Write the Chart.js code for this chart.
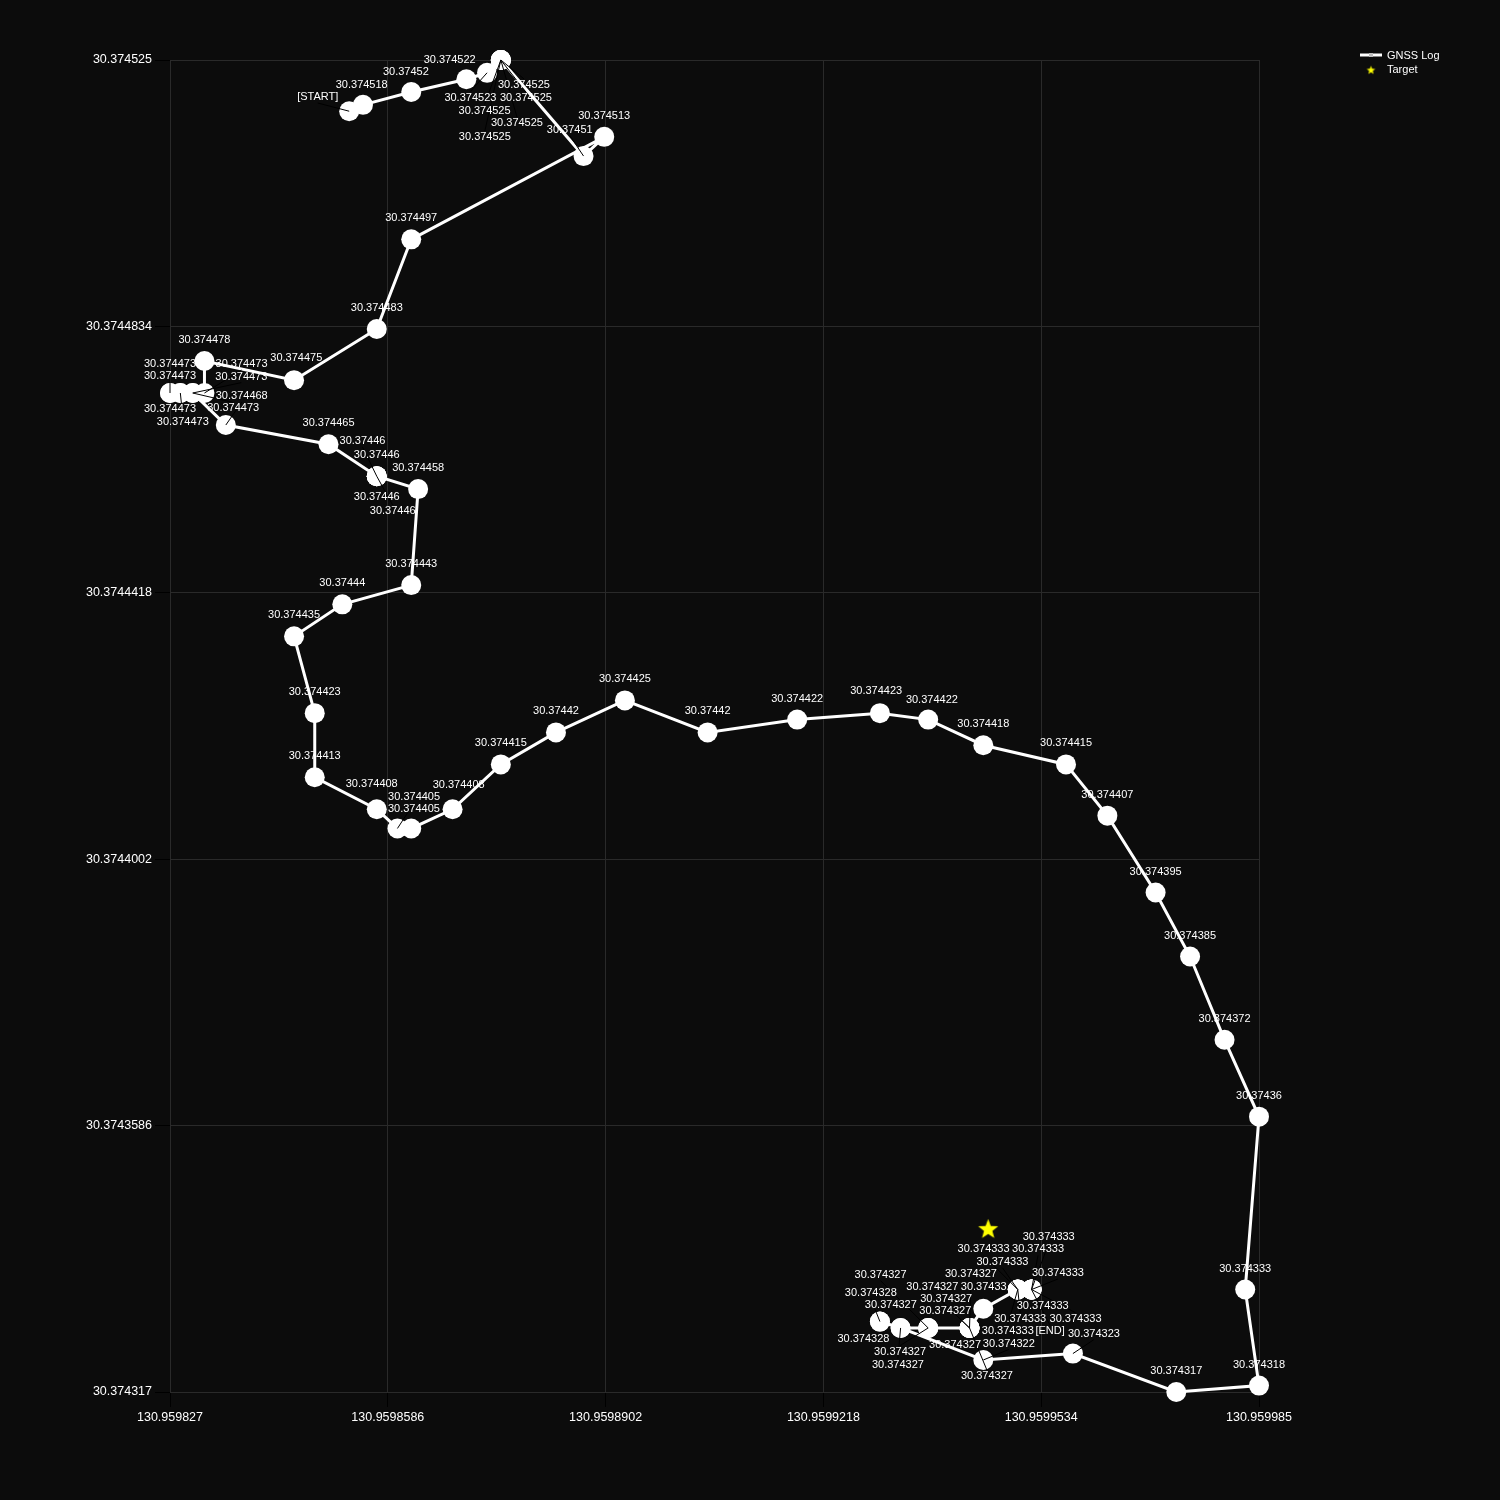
<!DOCTYPE html>
<html><head><meta charset="utf-8">
<script src="https://cdn.jsdelivr.net/npm/chart.js@4.4.1/dist/chart.umd.min.js"></script>
<style>html,body{margin:0;padding:0;background:#0c0c0c;}#wrap{width:1500px;height:1500px;}</style>
</head><body><div id="wrap"><canvas id="c" width="1500" height="1500"></canvas></div>
<script>
// GNSS log (longitude / latitude), in travel order
const lons = [
  130.959853, 130.959855, 130.959862, 130.95987, 130.959873,
  130.959875, 130.959875, 130.959875, 130.959875, 130.959875,
  130.959887, 130.95989, 130.959862, 130.959857, 130.959845,
  130.959832, 130.959832, 130.9598303, 130.9598285, 130.959827, 130.959827, 130.9598285, 130.9598303,
  130.9598351, 130.95985, 130.959857, 130.959857, 130.959857, 130.959857, 130.959863,
  130.959862, 130.959852, 130.959845, 130.959848, 130.959848, 130.959857, 130.95986, 130.959862,
  130.959868, 130.959875, 130.959883, 130.959893, 130.959905, 130.959918, 130.95993, 130.959937,
  130.959945, 130.959957, 130.959963, 130.95997, 130.959975, 130.95998, 130.959985, 130.959983,
  130.959985, 130.959973, 130.959958, 130.959945,
  130.959933, 130.95993, 130.95993, 130.959933,
  130.959937, 130.959937, 130.959937,
  130.959943, 130.959943, 130.959943, 130.959943, 130.959943,
  130.959945,
  130.95995, 130.95995, 130.95995, 130.95995,
  130.959952, 130.959952, 130.959952, 130.959952, 130.959952, 130.959952
];
const lats = [
  30.374517, 30.374518, 30.37452, 30.374522, 30.374523,
  30.374525, 30.374525, 30.374525, 30.374525, 30.374525,
  30.37451, 30.374513, 30.374497, 30.374483, 30.374475,
  30.374478, 30.374473, 30.374473, 30.374473, 30.374473, 30.374473, 30.374473, 30.374473,
  30.374468, 30.374465, 30.37446, 30.37446, 30.37446, 30.37446, 30.374458,
  30.374443, 30.37444, 30.374435, 30.374423, 30.374413, 30.374408, 30.374405, 30.374405,
  30.374408, 30.374415, 30.37442, 30.374425, 30.37442, 30.374422, 30.374423, 30.374422,
  30.374418, 30.374415, 30.374407, 30.374395, 30.374385, 30.374372, 30.37436, 30.374333,
  30.374318, 30.374317, 30.374323, 30.374322,
  30.374327, 30.374328, 30.374328, 30.374327,
  30.374327, 30.374327, 30.374327,
  30.374327, 30.374327, 30.374327, 30.374327, 30.374327,
  30.37433,
  30.374333, 30.374333, 30.374333, 30.374333,
  30.374333, 30.374333, 30.374333, 30.374333, 30.374333, 30.374333
];
const targetLon = [130.9599457];
const targetLat = [30.3743425];
const startText = '[START]';
const endText = '[END]';
const seriesNames = ['GNSS Log', 'Target'];
const xTicks = [130.959827, 130.9598586, 130.9598902, 130.9599218, 130.9599534, 130.959985];
const xTickLabels = ['130.959827', '130.9598586', '130.9598902', '130.9599218', '130.9599534', '130.959985'];
const yTicks = [30.374317, 30.3743586, 30.3744002, 30.3744418, 30.3744834, 30.374525];
const yTickLabels = ['30.374317', '30.3743586', '30.3744002', '30.3744418', '30.3744834', '30.374525'];

const FAMILY = '"Liberation Sans", Arial, sans-serif';
const YELLOW = '#ffff00';

function makeStar(r) {
  const s = Math.ceil(r * 2 + 2);
  const c = document.createElement('canvas');
  c.width = s; c.height = s;
  const g = c.getContext('2d');
  g.fillStyle = YELLOW;
  g.beginPath();
  for (let k = 0; k < 10; k++) {
    const rr = k % 2 ? r * 0.42 : r;
    const a = -Math.PI / 2 + k * Math.PI / 5;
    g.lineTo(s / 2 + rr * Math.cos(a), s / 2 + rr * Math.sin(a) + r * 0.08);
  }
  g.closePath(); g.fill();
  return c;
}
const starImg = makeStar(10.5);

function labelText(i) {
  if (i === 0) return startText;
  if (i === lats.length - 1) return endText;
  return String(parseFloat(lats[i].toFixed(6)));
}

const labelPlugin = {
  id: 'ptLabels',
  afterDatasetsDraw(chart) {
    const ctx = chart.ctx;
    const area = chart.chartArea;
    const meta = chart.getDatasetMeta(0);
    ctx.save();
    ctx.font = '11px ' + FAMILY;
    const H = 12, R = 10, GAP = 21, STEP = 14;
    const pts = [];
    const groups = {};
    const L = meta.data.map((el, i) => {
      const key = Math.round(el.x / 3) + ',' + Math.round(el.y / 3);
      if (!(key in groups)) { groups[key] = { k: 0, up: 0, dn: 0 }; pts.push({ x: el.x, y: el.y }); }
      const g = groups[key];
      const k = g.k++;
      const t = labelText(i);
      let dy, dx;
      let wantUp = k % 2 === 0;
      if (wantUp && el.y - GAP - STEP * g.up < area.top - 2) wantUp = false;
      if (wantUp) { dy = -(GAP + STEP * g.up); dx = g.up ? (g.up % 2 ? -16 : 16) : 0; g.up++; }
      else { dy = GAP + STEP * g.dn; dx = g.dn ? (g.dn % 2 ? 16 : -16) : 0; g.dn++; }
      const w = ctx.measureText(t).width + 2;
      return { t, w, h: H, px: el.x, py: el.y, x: el.x + dx, y: el.y + dy, ax: el.x + dx, ay: el.y + dy };
    });
    const n = L.length;
    for (let it = 0; it < 300; it++) {
      for (let i = 0; i < n; i++) {
        const a = L[i];
        for (let j = i + 1; j < n; j++) {
          const b = L[j];
          const hw = (a.w + b.w) / 2;
          const ox = hw - Math.abs(a.x - b.x);
          const oy = H - Math.abs(a.y - b.y);
          if (ox > 0 && oy > 0) {
            let vx = (a.x - b.x) / hw, vy = (a.y - b.y) / H;
            if (Math.abs(vx) < 1e-6 && Math.abs(vy) < 1e-6) {
              const ang = i * 2.399 + j * 1.1;
              vx = Math.cos(ang); vy = Math.sin(ang);
            }
            if (Math.abs(vy) < 0.15) {
              const atTop = a.y <= area.top + 0.5 || b.y <= area.top + 0.5;
              if (atTop) vy = (a.y <= b.y ? -0.5 : 0.5);
            }
            const m = Math.hypot(vx, vy); vx /= m; vy /= m;
            a.x += vx * 1.2; a.y += vy * 0.7;
            b.x -= vx * 1.2; b.y -= vy * 0.7;
          }
        }
        for (const p of pts) {
          const ox = a.w / 2 + R - Math.abs(a.x - p.x);
          const oy = H / 2 + R - Math.abs(a.y - p.y);
          if (ox > 0 && oy > 0) {
            let vx = (a.x - p.x) / (a.w / 2 + R), vy = (a.y - p.y) / (H / 2 + R);
            const m = Math.hypot(vx, vy) || 1; vx /= m; vy /= m;
            a.x += vx * 0.8; a.y += vy * 0.8;
          }
        }
        a.x += (a.ax - a.x) * 0.01;
        a.y += (a.ay - a.y) * 0.01;
        if (a.y < area.top) a.y = area.top;
        if (a.x < area.left) a.x = area.left;
        if (a.y > area.bottom) a.y = area.bottom;
      }
    }
    ctx.strokeStyle = '#000';
    ctx.lineWidth = 1;
    L.forEach(l => {
      const d = Math.hypot(l.x - l.px, l.y - l.py);
      if (d > 26) {
        const ty = l.y < l.py ? l.y + l.h / 2 : l.y - l.h / 2;
        ctx.beginPath();
        ctx.moveTo(l.x, ty);
        ctx.lineTo(l.px, l.py);
        ctx.stroke();
      }
    });
    ctx.fillStyle = '#ffffff';
    ctx.textAlign = 'center';
    ctx.textBaseline = 'middle';
    L.forEach(l => ctx.fillText(l.t, l.x, l.y));
    ctx.restore();
  },
  afterDraw(chart) {
    const ctx = chart.ctx;
    ctx.save();
    ctx.strokeStyle = '#ffffff';
    ctx.lineWidth = 3;
    ctx.beginPath(); ctx.moveTo(1360, 55); ctx.lineTo(1382, 55); ctx.stroke();
    ctx.fillStyle = '#bfbfbf';
    ctx.fillRect(1369, 53, 4, 4);
    ctx.drawImage(makeStar(4.5), 1371 - 5.5, 70 - 5.5);
    ctx.fillStyle = '#ffffff';
    ctx.font = '11px ' + FAMILY;
    ctx.textAlign = 'left';
    ctx.textBaseline = 'middle';
    ctx.fillText(seriesNames[0], 1387, 56);
    ctx.fillText(seriesNames[1], 1387, 70);
    ctx.restore();
  }
};

const gridCol = '#2a2a2a';
new Chart(document.getElementById('c'), {
  type: 'scatter',
  data: {
    datasets: [
      {
        label: seriesNames[0],
        data: lons.map((x, i) => ({ x, y: lats[i] })),
        showLine: true,
        borderColor: '#ffffff',
        borderWidth: 3,
        pointRadius: 10,
        pointBackgroundColor: '#ffffff',
        pointBorderWidth: 0,
        clip: false,
        order: 2
      },
      {
        label: seriesNames[1],
        data: targetLon.map((x, i) => ({ x, y: targetLat[i] })),
        pointStyle: starImg,
        pointRadius: 10,
        clip: false,
        order: 1
      }
    ]
  },
  options: {
    responsive: false,
    animation: false,
    events: [],
    layout: { padding: { top: 60, right: 241, left: 0, bottom: 0 } },
    plugins: { legend: { display: false }, tooltip: { enabled: false } },
    scales: {
      x: {
        type: 'linear', min: xTicks[0], max: xTicks[xTicks.length - 1],
        afterBuildTicks: s => { s.ticks = xTicks.map(v => ({ value: v })); },
        afterFit: s => { s.height = 108; },
        ticks: { callback: (v, i) => xTickLabels[i], color: '#ffffff', font: { size: 12.5, family: FAMILY }, padding: 3, maxRotation: 0, autoSkip: false },
        grid: { color: gridCol, tickColor: '#000000', tickLength: 15, lineWidth: 1 },
        border: { color: gridCol }
      },
      y: {
        type: 'linear', min: yTicks[0], max: yTicks[yTicks.length - 1],
        afterBuildTicks: s => { s.ticks = yTicks.map(v => ({ value: v })); },
        afterFit: s => { s.width = 170; },
        ticks: { callback: (v, i) => yTickLabels[i], color: '#ffffff', font: { size: 12.5, family: FAMILY }, padding: 3, autoSkip: false },
        grid: { color: gridCol, tickColor: '#000000', tickLength: 15, lineWidth: 1 },
        border: { color: gridCol }
      }
    }
  },
  plugins: [labelPlugin]
});
</script></body></html>
